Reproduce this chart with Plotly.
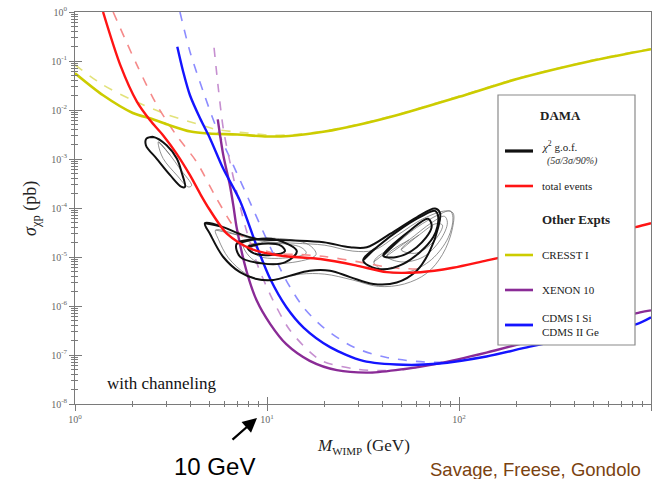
import plotly.graph_objects as go

# ---------------- data: WIMP mass (GeV) vs spin-independent cross-section (pb) ----------------
X_TICKS = [1, 10, 100, 1000]
X_TICK_TEXT = ["10<sup>0</sup>", "10<sup>1</sup>", "10<sup>2</sup>", "10<sup>3</sup>"]
Y_TICKS = [1e-8, 1e-7, 1e-6, 1e-5, 1e-4, 1e-3, 1e-2, 1e-1, 1]
Y_TICK_TEXT = ["10<sup>-8</sup>", "10<sup>-7</sup>", "10<sup>-6</sup>", "10<sup>-5</sup>",
               "10<sup>-4</sup>", "10<sup>-3</sup>", "10<sup>-2</sup>", "10<sup>-1</sup>",
               "10<sup>0</sup>"]

# CRESST I
cresst_m = [1.0, 1.4, 2.0, 2.5, 3.0, 4.0, 5.0, 7.0, 10, 13, 20, 30, 50, 100, 200, 500, 1000]
cresst_s = [0.0562, 0.0200, 8.71e-3, 6.61e-3, 5.13e-3, 3.63e-3, 3.31e-3, 3.16e-3, 2.88e-3,
            2.95e-3, 3.63e-3, 5.01e-3, 8.32e-3, 0.0186, 0.0427, 0.102, 0.174]
cresst_d_m = [1.0, 1.4, 2.0, 3.0, 4.3, 5.5, 8.0, 10, 13, 20, 30, 50, 100, 200, 500, 1000]
cresst_d_s = [0.0832, 0.0324, 0.0158, 8.13e-3, 5.25e-3, 3.98e-3, 3.39e-3, 3.09e-3, 3.09e-3,
              3.72e-3, 5.13e-3, 8.51e-3, 0.0191, 0.0437, 0.105, 0.178]

# DAMA total events
dama_m = [1.40, 1.72, 2.10, 2.46, 2.88, 3.38, 3.97, 4.5, 5.0, 6.2, 8.2, 11.7, 19, 29, 42, 63,
          93, 140, 300, 500, 830, 1000]
dama_s = [1.0, 0.0832, 0.0148, 6.17e-3, 3.02e-3, 1.29e-3, 4.68e-4, 1.91e-4, 9.55e-5, 2.95e-5,
          1.48e-5, 1.07e-5, 9.12e-6, 6.76e-6, 4.90e-6, 4.90e-6, 6.03e-6, 8.51e-6, 1.62e-5,
          2.57e-5, 4.07e-5, 4.90e-5]
dama_d_m = [1.58, 2.10, 2.67, 3.38, 4.30, 5.47, 6.95, 8.84, 11, 15, 20, 30, 45, 65]
dama_d_s = [1.0, 0.0832, 0.0126, 3.02e-3, 8.71e-4, 1.55e-4, 3.47e-5, 1.58e-5, 1.20e-5,
            1.12e-5, 1.02e-5, 7.94e-6, 6.03e-6, 5.62e-6]

# CDMS I Si / CDMS II Ge
cdms_m = [3.41, 3.66, 3.97, 4.48, 5.05, 5.92, 7.23, 8.84, 10.4, 12.6, 15.5, 21.3, 31.7, 51.2,
          76.5, 139, 234, 500, 842, 1000]
cdms_s = [0.195, 0.0603, 0.0200, 6.76e-3, 2.63e-3, 6.31e-4, 1.41e-4, 1.66e-5, 3.55e-6, 9.55e-7,
          3.63e-7, 1.45e-7, 7.59e-8, 6.31e-8, 6.61e-8, 9.33e-8, 1.48e-7, 2.75e-7, 4.27e-7,
          5.89e-7]
cdms_d_m = [3.52, 3.97, 4.66, 5.47, 6.68, 8.15, 10.4, 12.6, 15.5, 19.7, 28.2, 42, 76.5, 150]
cdms_d_s = [1.0, 0.155, 0.0234, 4.17e-3, 7.41e-4, 1.32e-4, 1.58e-5, 3.31e-6, 9.33e-7, 3.63e-7,
            1.45e-7, 8.91e-8, 7.08e-8, 1.0e-7]

# XENON 10
xenon_m = [5.54, 5.92, 6.41, 6.68, 6.95, 7.84, 8.84, 10.4, 12.6, 16.7, 23.1, 34.4, 51.2, 76.5,
           139, 250, 500, 877, 1000]
xenon_s = [6.46e-3, 1.20e-3, 2.88e-4, 1.12e-4, 3.98e-5, 5.01e-6, 1.29e-6, 4.27e-7, 1.66e-7,
           7.59e-8, 4.90e-8, 4.37e-8, 5.13e-8, 6.61e-8, 1.12e-7, 2.04e-7, 4.17e-7, 7.41e-7,
           8.13e-7]
xenon_d_m = [5.30, 5.58, 5.92, 6.41, 6.95, 7.8, 9.0, 10.5, 13.2, 18.9, 28.2, 40, 60]
xenon_d_s = [0.186, 0.0275, 4.17e-3, 8.71e-4, 2.14e-4, 3.55e-5, 6.31e-6, 1.58e-6, 3.16e-7,
             7.94e-8, 5.25e-8, 4.79e-8, 5.50e-8]

# DAMA chi^2 goodness-of-fit regions (with channeling: black, without: grey)
low_m = [2.36, 2.56, 3.00, 3.39, 3.59, 3.74, 3.59, 3.13, 2.66, 2.34]
low_s = [2.63e-3, 2.82e-3, 1.91e-3, 1.02e-3, 5.37e-4, 2.69e-4, 2.69e-4, 4.68e-4, 1.02e-3, 1.91e-3]
outer_m = [4.75, 5.92, 7.23, 8.84, 13.2, 19.7, 27.1, 33.1, 43.7, 60.2, 75.0, 79.6, 78.0, 70.6,
           60.2, 47.4, 35.8, 27.1, 21.3, 16.7, 13.2, 10.8, 8.84, 7.23, 5.92, 5.05]
outer_s = [4.90e-5, 4.07e-5, 2.95e-5, 2.34e-5, 2.19e-5, 2.00e-5, 1.58e-5, 1.58e-5, 2.95e-5,
           6.46e-5, 9.77e-5, 7.94e-5, 4.07e-5, 1.35e-5, 5.25e-6, 3.02e-6, 2.82e-6, 3.89e-6,
           5.25e-6, 5.25e-6, 4.17e-6, 3.39e-6, 3.55e-6, 4.90e-6, 1.00e-5, 2.95e-5]
left3_m = [6.95, 8.7, 11.0, 14.3, 12.4, 9.4, 7.23]
left3_s = [1.86e-5, 2.29e-5, 2.29e-5, 1.32e-5, 7.76e-6, 7.41e-6, 1.02e-5]
left90_m = [7.9, 9.5, 11.8, 12.4, 10.5, 8.5]
left90_s = [1.58e-5, 1.86e-5, 1.70e-5, 1.32e-5, 1.10e-5, 1.20e-5]
right3_m = [31.7, 37.3, 51.3, 65.2, 75, 78, 73.5, 51.3, 37.3]
right3_s = [8.51e-6, 1.58e-5, 4.07e-5, 7.08e-5, 8.71e-5, 6.46e-5, 2.57e-5, 7.24e-6, 5.75e-6]
right90_m = [40.3, 55.6, 69, 72, 60.2, 47.4]
right90_s = [1.07e-5, 3.47e-5, 6.03e-5, 4.07e-5, 1.58e-5, 1.00e-5]

g_low_m = [2.72, 3.13, 3.52, 4.05, 3.89, 3.39, 2.88, 2.72]
g_low_s = [2.24e-3, 1.20e-3, 6.31e-4, 2.88e-4, 2.69e-4, 4.68e-4, 1.02e-3, 1.91e-3]
g_outer_m = [5.4, 7.0, 9.5, 14, 20, 28, 36, 48, 65, 85, 93, 92, 82, 68, 52, 38, 28, 20, 15, 12,
             9.5, 7.8, 6.3, 5.6]
g_outer_s = [3.55e-5, 2.82e-5, 2.09e-5, 1.91e-5, 1.74e-5, 1.32e-5, 1.38e-5, 2.82e-5, 6.03e-5,
             8.71e-5, 7.94e-5, 3.55e-5, 1.12e-5, 4.68e-6, 2.82e-6, 2.51e-6, 3.39e-6, 4.47e-6,
             4.47e-6, 3.72e-6, 3.31e-6, 4.47e-6, 9.55e-6, 2.24e-5]
g_r1_m = [36, 45, 60, 80, 90, 93, 88, 72, 55, 42]
g_r1_s = [7.94e-6, 1.58e-5, 3.98e-5, 7.59e-5, 8.71e-5, 6.31e-5, 2.51e-5, 8.91e-6, 5.01e-6, 5.01e-6]
g_r2_m = [42, 55, 72, 84, 87, 80, 65, 50]
g_r2_s = [1.05e-5, 2.24e-5, 5.01e-5, 6.76e-5, 5.01e-5, 2.24e-5, 1.00e-5, 7.94e-6]
g_r3_m = [50, 62, 76, 82, 75, 60]
g_r3_s = [1.41e-5, 2.82e-5, 4.79e-5, 4.47e-5, 2.24e-5, 1.20e-5]
g_l1_m = [8.0, 11, 15, 16, 12.5, 9]
g_l1_s = [1.74e-5, 1.91e-5, 1.58e-5, 1.20e-5, 9.55e-6, 1.05e-5]
g_l2_m = [7.5, 11, 16.5, 18, 13, 8.5]
g_l2_s = [2.00e-5, 2.40e-5, 1.78e-5, 1.12e-5, 7.59e-6, 8.71e-6]

# ---------------- styling ----------------
YELLOW, YELLOW_D = "#cccc00", "#e2e27a"
RED, RED_D = "#ff1414", "#f58a8a"
BLUE, BLUE_D = "#1414ff", "#8c8cff"
PURPLE, PURPLE_D = "#8a2b96", "#c68fd0"
AXIS = "#7a7a7a"
SERIF = "Liberation Serif"

W, H = 656, 479
L, R, T, B = 75, 5, 12, 75
PW, PH = W - L - R, H - T - B


def px(xp):
    return (xp - L) / PW


def py(yp):
    return (H - B - yp) / PH


fig = go.Figure()


def curve(m, s, color, width, dash="solid"):
    fig.add_trace(go.Scatter(x=m, y=s, mode="lines", line=dict(color=color, width=width, dash=dash,
                                                             shape="spline", smoothing=0.8),
                             hoverinfo="skip", showlegend=False))


def loop(m, s, color, width):
    fig.add_trace(go.Scatter(x=m + m[:2], y=s + s[:2], mode="lines",
                             line=dict(color=color, width=width, shape="spline", smoothing=1.0),
                             hoverinfo="skip", showlegend=False))


# grey (no channeling) regions underneath
GREY = "rgba(110,110,110,0.75)"
for m, s in [(g_low_m, g_low_s), (g_outer_m, g_outer_s), (g_r1_m, g_r1_s), (g_r2_m, g_r2_s),
             (g_r3_m, g_r3_s), (g_l1_m, g_l1_s), (g_l2_m, g_l2_s)]:
    loop(m, s, GREY, 1)

# dashed limits first, then solid ones
curve(cresst_d_m, cresst_d_s, YELLOW_D, 1.6, "dash")
curve(dama_d_m, dama_d_s, RED_D, 1.6, "dash")
curve(cdms_d_m, cdms_d_s, BLUE_D, 1.6, "dash")
curve(xenon_d_m, xenon_d_s, PURPLE_D, 1.6, "dash")

curve(cresst_m, cresst_s, YELLOW, 2.6)
curve(xenon_m, xenon_s, PURPLE, 2.4)
curve(cdms_m, cdms_s, BLUE, 2.4)

# black (with channeling) regions
for m, s in [(low_m, low_s), (outer_m, outer_s), (left3_m, left3_s), (left90_m, left90_s),
             (right3_m, right3_s), (right90_m, right90_s)]:
    loop(m, s, "#111111", 2)

curve(dama_m, dama_s, RED, 2.4)

# helper trace for the inner half of the crossing tick marks
fig.add_trace(go.Scatter(x=[], y=[], xaxis="x2", yaxis="y2", showlegend=False, hoverinfo="skip"))

minor_x = [k * 10 ** e for e in range(0, 3) for k in range(2, 10)]
minor_y = [k * 10.0 ** e for e in range(-8, 0) for k in range(2, 10)]

tickfont = dict(family=SERIF, size=10, color="#666666")
common = dict(type="log", showgrid=False, zeroline=False)

fig.update_layout(
    width=W, height=H,
    margin=dict(l=L, r=R, t=T, b=B),
    paper_bgcolor="white", plot_bgcolor="white",
    xaxis=dict(**common, range=[0, 3], showline=True, linecolor=AXIS, linewidth=1, mirror=True,
               ticks="outside", ticklen=6, tickcolor=AXIS, tickwidth=1,
               tickvals=X_TICKS, ticktext=X_TICK_TEXT, tickfont=tickfont,
               minor=dict(tickvals=minor_x, ticks="outside", ticklen=2, tickcolor=AXIS)),
    xaxis2=dict(**common, range=[0, 3], overlaying="x", anchor="y", side="bottom",
                ticks="inside", ticklen=7, tickcolor=AXIS, tickvals=X_TICKS,
                showticklabels=False, showline=False,
                minor=dict(tickvals=minor_x, ticks="inside", ticklen=3, tickcolor=AXIS)),
    yaxis=dict(**common, range=[-8, 0], showline=True, linecolor=AXIS, linewidth=1, mirror=True,
               ticks="outside", ticklen=5, tickcolor=AXIS, tickwidth=1,
               tickvals=Y_TICKS, ticktext=Y_TICK_TEXT, tickfont=tickfont,
               minor=dict(tickvals=minor_y, ticks="outside", ticklen=3, tickcolor=AXIS)),
    yaxis2=dict(**common, range=[-8, 0], overlaying="y", anchor="x", side="left",
                ticks="inside", ticklen=7, tickcolor=AXIS, tickvals=Y_TICKS,
                showticklabels=False, showline=False,
                minor=dict(tickvals=minor_y, ticks="inside", ticklen=3, tickcolor=AXIS)),
)

ann = []


def note(x, y, text, font, xanchor="center", **kw):
    d = dict(x=px(x), y=py(y), xref="paper", yref="paper", xanchor=xanchor, yanchor="middle",
             text=text, showarrow=False, font=font)
    d.update(kw)
    ann.append(d)


# axis titles
note(31, 209, "<i>σ</i><sub>χp</sub> (pb)", dict(family=SERIF, size=18, color="#222"),
     textangle=-90)
note(363, 446, "<i>M</i><sub><span style='font-size:11px'>WIMP</span></sub> (GeV)",
     dict(family=SERIF, size=17, color="#222"))
note(105, 383, "with channeling", dict(family=SERIF, size=17, color="#111"), xanchor="left")

# 10 GeV pointer
ann.append(dict(x=px(257), y=py(418), xref="paper", yref="paper", text="", showarrow=True,
                ax=-26, ay=23, arrowhead=2, arrowsize=1.3, arrowwidth=2.2, arrowcolor="black"))
note(214, 466, "10 GeV", dict(family="Liberation Sans", size=24, color="black"))
note(428, 470, "Savage, Freese, Gondolo",
     dict(family="Liberation Sans", size=18.5, color="#7a4210"), xanchor="left")

# legend panel
shapes = [dict(type="rect", xref="paper", yref="paper", x0=px(498), x1=px(635), y0=py(345),
               y1=py(95), fillcolor="white", line=dict(color="#8a8a8a", width=1.2),
               layer="above")]
samples = [(151, "#111111", 3.2), (186, RED, 2.6), (255, YELLOW, 2.6), (290, PURPLE, 2.6),
           (325, BLUE, 2.8)]
for yy, c, w in samples:
    shapes.append(dict(type="line", xref="paper", yref="paper", x0=px(505), x1=px(533),
                       y0=py(yy), y1=py(yy), line=dict(color=c, width=w), layer="above"))

lf = dict(family=SERIF, size=11, color="#222")
legend_text = [
    (560, 115, "center", "<b>DAMA</b>", dict(family=SERIF, size=13, color="#222")),
    (540, 146, "left", "<i>χ</i><sup>2</sup> g.o.f.", lf),
    (545, 161, "left", "<i>(5σ/3σ/90%)</i>", dict(family=SERIF, size=10, color="#333")),
    (540, 186, "left", "total events", lf),
    (540, 219, "left", "<b>Other Expts</b>", dict(family=SERIF, size=13, color="#222")),
    (540, 255, "left", "CRESST I", lf),
    (540, 290, "left", "XENON 10", lf),
    (540, 318, "left", "CDMS I Si", lf),
    (540, 332, "left", "CDMS II Ge", lf),
]
for xx, yy, anc, txt, f in legend_text:
    note(xx, yy, txt, f, xanchor=anc)

fig.update_layout(annotations=ann, shapes=shapes)
fig.write_html("out.html")
